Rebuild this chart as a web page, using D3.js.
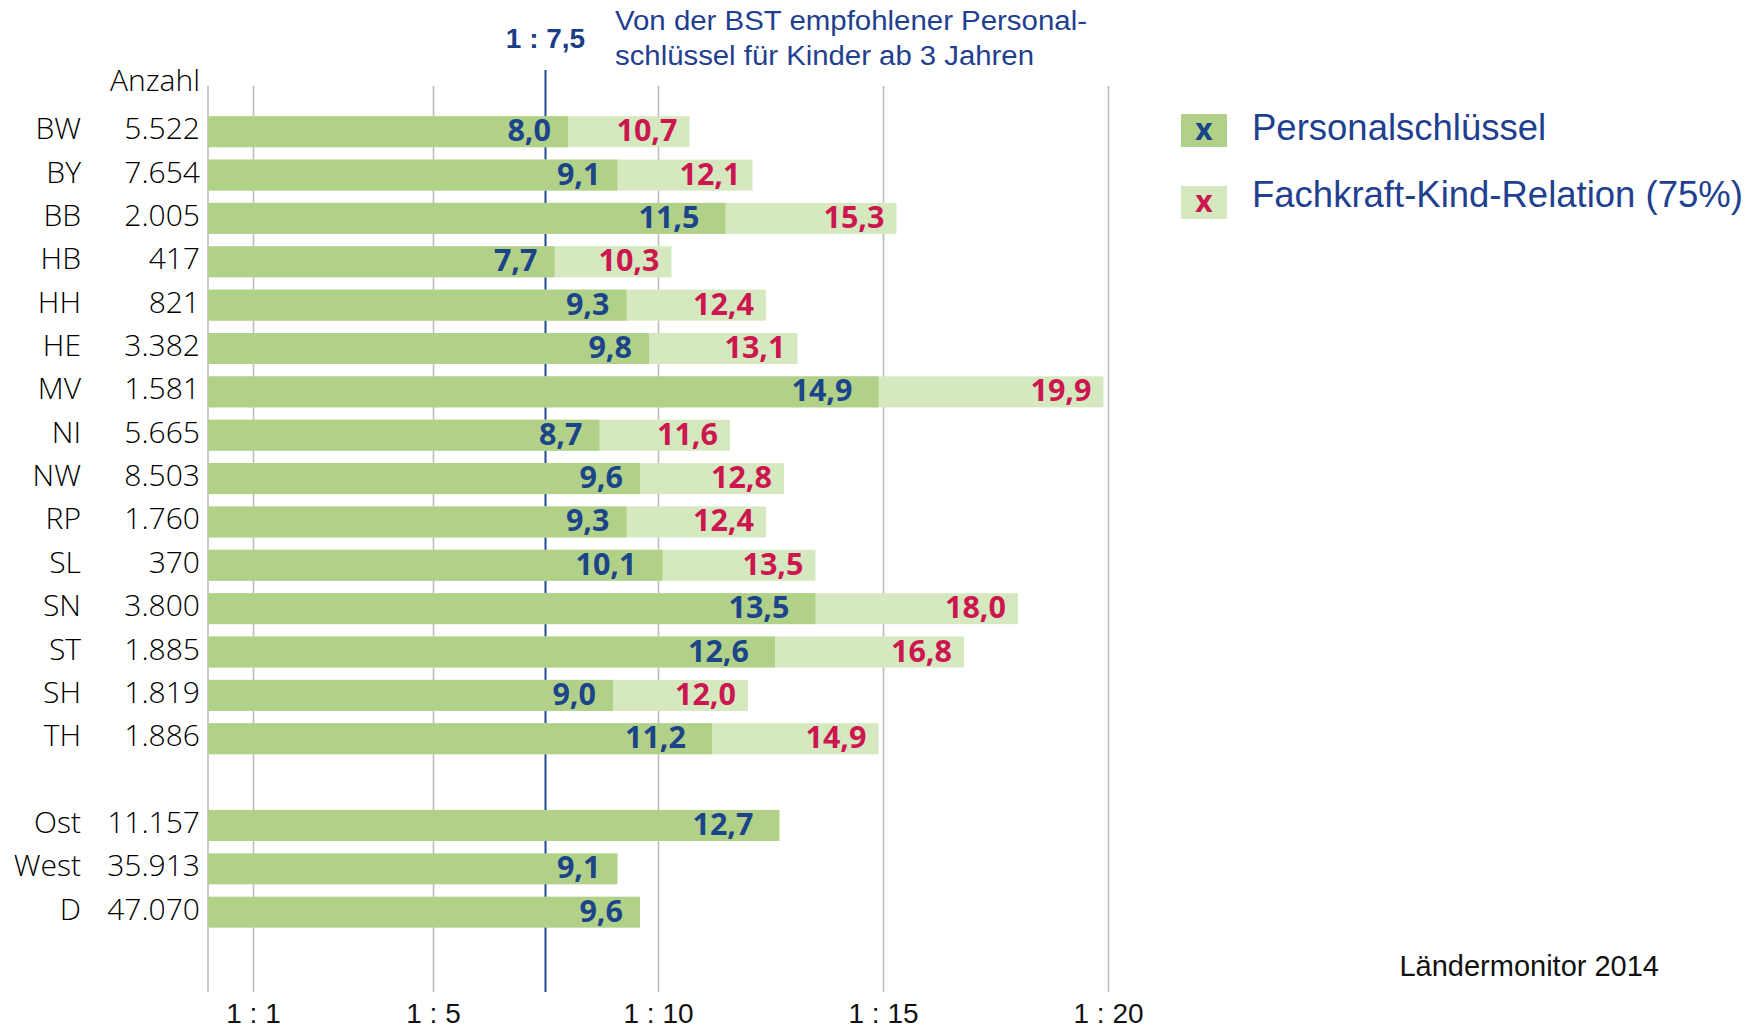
<!DOCTYPE html>
<html>
<head>
<meta charset="utf-8">
<script src="https://cdnjs.cloudflare.com/ajax/libs/d3/7.8.5/d3.min.js"></script>
<style>
  body { margin: 0; background: #fff; }
  svg { display: block; }
</style>
</head>
<body>
<div id="container"></div>
<script>
/* DATA */
const states = ["BW", "BY", "BB", "HB", "HH", "HE", "MV", "NI", "NW", "RP", "SL", "SN", "ST", "SH", "TH"];
const stateCounts = ["5.522", "7.654", "2.005", "417", "821", "3.382", "1.581", "5.665", "8.503", "1.760", "370", "3.800", "1.885", "1.819", "1.886"];
const personal = [8.0, 9.1, 11.5, 7.7, 9.3, 9.8, 14.9, 8.7, 9.6, 9.3, 10.1, 13.5, 12.6, 9.0, 11.2];
const fachkraft = [10.7, 12.1, 15.3, 10.3, 12.4, 13.1, 19.9, 11.6, 12.8, 12.4, 13.5, 18.0, 16.8, 12.0, 14.9];
const regions = ["Ost", "West", "D"];
const regionCounts = ["11.157", "35.913", "47.070"];
const regionPersonal = [12.7, 9.1, 9.6];
const tickValues = [1, 5, 10, 15, 20];
const recommended = 7.5;
const legendLabels = ["Personalschlüssel", "Fachkraft-Kind-Relation (75%)"];
const noteLines = ["Von der BST empfohlener Personal-", "schlüssel für Kinder ab 3 Jahren"];

/* CONSTANTS */
const width = 1764, height = 1028;
const gridTop = 86, gridBottom = 992;
const darkGreen = "#b1d189", lightGreen = "#d6e8c0";
const blue = "#1c4489", red = "#cc1650", textBlue = "#1f3f8f";
const sansLight = "'Open Sans', 'Noto Sans', sans-serif";
const arial = "'Liberation Sans', Arial, sans-serif";

// rows: states, a blank row, then the summaries
const rows = states.map((s, i) => ({ key: s, count: stateCounts[i], p: personal[i], f: fachkraft[i] }))
  .concat([{ key: "gap", blank: true }])
  .concat(regions.map((r, i) => ({ key: r, count: regionCounts[i], p: regionPersonal[i], f: null })));
const dataRows = rows.filter(d => !d.blank);

const locale = d3.formatLocale({ decimal: ",", thousands: ".", grouping: [3], currency: ["", ""] });
const fmt = locale.format(".1f");

/* SCALES */
const xScale = d3.scaleLinear()
  .domain([0, 20])
  .range([208, 1108]);

const step = 43.36;
const yScale = d3.scaleBand()
  .domain(rows.map(d => d.key))
  .range([131.7 - step / 2, 131.7 - step / 2 + step * rows.length])
  .paddingInner(0.285)
  .paddingOuter(0.1425);

/* SVG */
const svg = d3.select("#container")
  .append("svg")
  .attr("width", width)
  .attr("height", height);

// gridlines + tick labels
const xAxis = d3.axisBottom(xScale)
  .tickValues(tickValues)
  .tickFormat(d => "1 : " + d)
  .tickSize(-(gridBottom - gridTop))
  .tickSizeOuter(0);

const gAxis = svg.append("g")
  .attr("transform", `translate(0,${gridBottom})`)
  .call(xAxis);
gAxis.select(".domain").remove();
gAxis.selectAll("line").attr("stroke", "#bdbdbd").attr("stroke-width", 1.6);
gAxis.selectAll("text")
  .attr("y", 31)
  .attr("dy", 0)
  .attr("fill", "#111")
  .style("font-family", arial)
  .style("font-size", "28px");

// left axis line
svg.append("line")
  .attr("x1", xScale(0)).attr("x2", xScale(0))
  .attr("y1", gridTop).attr("y2", gridBottom)
  .attr("stroke", "#bdbdbd")
  .attr("stroke-width", 1.6);

// recommended ratio line
svg.append("line")
  .attr("x1", xScale(recommended)).attr("x2", xScale(recommended))
  .attr("y1", 70).attr("y2", gridBottom)
  .attr("stroke", "#1f4a96")
  .attr("stroke-width", 2);

svg.append("text")
  .attr("x", xScale(recommended))
  .attr("y", 48)
  .attr("text-anchor", "middle")
  .attr("fill", "#1a3d86")
  .style("font-family", arial)
  .style("font-weight", "bold")
  .style("font-size", "28px")
  .text("1 : " + fmt(recommended));

// note next to the line (stretched a little to the original width)
svg.selectAll("text.note")
  .data(noteLines)
  .join("text")
  .attr("class", "note")
  .attr("x", 615)
  .attr("y", (d, i) => 30 + i * 35)
  .attr("textLength", (d, i) => i === 0 ? 472 : 419)
  .attr("lengthAdjust", "spacingAndGlyphs")
  .attr("fill", textBlue)
  .style("font-family", arial)
  .style("font-size", "27px")
  .text(d => d);

// light bars (Fachkraft-Kind-Relation)
svg.selectAll("rect.light")
  .data(dataRows.filter(d => d.f != null))
  .join("rect")
  .attr("class", "light")
  .attr("x", xScale(0))
  .attr("y", d => yScale(d.key))
  .attr("width", d => xScale(d.f) - xScale(0))
  .attr("height", yScale.bandwidth())
  .attr("fill", lightGreen);

// dark bars (Personalschlüssel)
svg.selectAll("rect.dark")
  .data(dataRows)
  .join("rect")
  .attr("class", "dark")
  .attr("x", xScale(0))
  .attr("y", d => yScale(d.key))
  .attr("width", d => xScale(d.p) - xScale(0))
  .attr("height", yScale.bandwidth())
  .attr("fill", darkGreen);

const mid = d => yScale(d.key) + yScale.bandwidth() / 2;

// value labels
svg.selectAll("text.pval")
  .data(dataRows)
  .join("text")
  .attr("class", "pval")
  .attr("x", d => xScale(d.p) - (fmt(d.p).length > 3 ? 26 : 17))
  .attr("y", d => mid(d) + 9.5)
  .attr("text-anchor", "end")
  .attr("fill", blue)
  .style("font-family", sansLight)
  .style("font-weight", 700)
  .style("font-size", "30.5px")
  .text(d => fmt(d.p));

svg.selectAll("text.fval")
  .data(dataRows.filter(d => d.f != null))
  .join("text")
  .attr("class", "fval")
  .attr("x", d => xScale(d.f) - 12)
  .attr("y", d => mid(d) + 9.5)
  .attr("text-anchor", "end")
  .attr("fill", red)
  .style("font-family", sansLight)
  .style("font-weight", 700)
  .style("font-size", "30.5px")
  .text(d => fmt(d.f));

// row labels and counts
svg.selectAll("text.cat")
  .data(dataRows)
  .join("text")
  .attr("class", "cat")
  .attr("x", 81)
  .attr("y", d => mid(d) + 7.5)
  .attr("text-anchor", "end")
  .attr("fill", "#000")
  .style("font-family", sansLight)
  .style("font-weight", 300)
  .style("font-size", "30px")
  .text(d => d.key);

svg.selectAll("text.count")
  .data(dataRows)
  .join("text")
  .attr("class", "count")
  .attr("x", 200)
  .attr("y", d => mid(d) + 7.5)
  .attr("text-anchor", "end")
  .attr("fill", "#000")
  .style("font-family", sansLight)
  .style("font-weight", 300)
  .style("font-size", "30px")
  .text(d => d.count);

svg.append("text")
  .attr("x", 200)
  .attr("y", 91)
  .attr("text-anchor", "end")
  .attr("fill", "#000")
  .style("font-family", sansLight)
  .style("font-weight", 300)
  .style("font-size", "30px")
  .text("Anzahl");

/* LEGEND */
const legend = svg.selectAll("g.legend")
  .data(legendLabels)
  .join("g")
  .attr("class", "legend");

legend.append("rect")
  .attr("x", 1181)
  .attr("y", (d, i) => 114 + i * 72)
  .attr("width", 46)
  .attr("height", 33)
  .attr("fill", (d, i) => i === 0 ? darkGreen : lightGreen);

legend.append("text")
  .attr("x", 1204)
  .attr("y", (d, i) => 140 + i * 72)
  .attr("text-anchor", "middle")
  .attr("fill", (d, i) => i === 0 ? blue : red)
  .style("font-family", sansLight)
  .style("font-weight", 700)
  .style("font-size", "30px")
  .text("x");

legend.append("text")
  .attr("x", 1252)
  .attr("y", (d, i) => 139.5 + i * 67.5)
  .attr("fill", textBlue)
  .style("font-family", arial)
  .style("font-size", "36.5px")
  .text(d => d);

// source
svg.append("text")
  .attr("x", 1659)
  .attr("y", 976)
  .attr("text-anchor", "end")
  .attr("fill", "#111")
  .style("font-family", arial)
  .style("font-size", "29px")
  .text("Ländermonitor 2014");
</script>
</body>
</html>
